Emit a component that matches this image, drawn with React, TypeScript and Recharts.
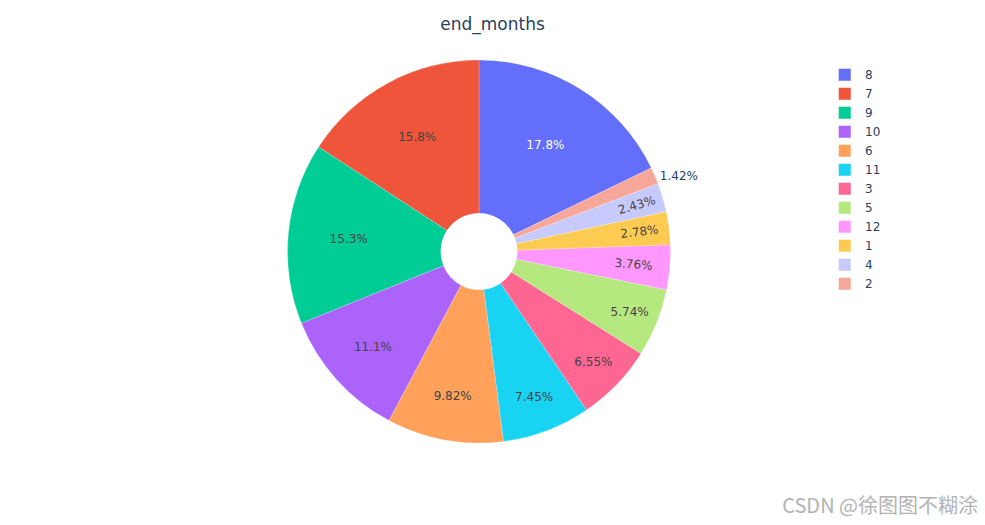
import { PieChart, Pie, Cell, Legend } from 'recharts';

// end_months share of rows (percent), in legend order
const months = ['8', '7', '9', '10', '6', '11', '3', '5', '12', '1', '4', '2'];
const shares = [17.8, 15.8, 15.3, 11.1, 9.82, 7.45, 6.55, 5.74, 3.76, 2.78, 2.43, 1.42];
const COLORS = [
  '#636efa', '#EF553B', '#00cc96', '#ab63fa', '#FFA15A', '#19d3f3',
  '#FF6692', '#B6E880', '#FF97FF', '#FECB52', '#c6cafd', '#f7a799',
];

const data = months.map((m, i) => ({ name: m, value: shares[i] }));
const total = shares.reduce((a, b) => a + b, 0);

const W = 985;
const H = 525;
// recharts adds its 5px default margin to numeric cx / cy
const CX = 474;
const CY = 246.5;
const R = 191.5;
const HOLE = 0.2;
// plotly style: first slice ends at 12 o'clock, going counterclockwise
const START = 90 - (shares[0] / total) * 360;

const FONT = '"DejaVu Sans", Verdana, sans-serif';
const INK = '#2a3f5f';

const textWidth = (s: string) => {
  let w = 0;
  for (const ch of s) w += ch === '.' ? 3.81 : ch === '%' ? 11.4 : 7.63;
  return w;
};

const hexBrightness = (hex: string) => {
  const n = parseInt(hex.slice(1), 16);
  const r = (n >> 16) & 255, g = (n >> 8) & 255, b = n & 255;
  return (r * 299 + g * 587 + b * 114) / 1000;
};

// rough port of plotly's inside-text fitting (horizontal, then radial, else outside)
const renderLabel = (props: any) => {
  const { cx, cy, midAngle, outerRadius, percent, index } = props;
  const txt = (percent * 100).toPrecision(3) + '%';
  const ring = 1 - HOLE;
  const half = percent * Math.PI;
  const w = textWidth(txt);
  const h = 15;
  const m = (midAngle * Math.PI) / 180;
  const inColor = hexBrightness(COLORS[index % COLORS.length]) >= 128 ? '#444' : '#fff';

  const sinH = Math.sin(half);
  const rIns = Math.min(sinH / (1 + sinH), ring / 2);
  const hScale = (rIns * outerRadius * 2) / Math.hypot(w, h);
  if (hScale >= 1) {
    const rc = (1 - rIns) * outerRadius;
    return (
      <text x={cx + rc * Math.cos(m)} y={cy - rc * Math.sin(m)} fill={inColor}
        fontFamily={FONT} fontSize={12} textAnchor="middle" dominantBaseline="central">
        {txt}
      </text>
    );
  }

  const a = w / h;
  const rr = outerRadius - 6;
  const q = a + 1 / (2 * Math.tan(half));
  const s = rr * Math.min(1 / (Math.sqrt(q * q + 0.5) + q), ring / (Math.sqrt(a * a + ring / 2) + a));
  if ((2 * s) / h >= 1) {
    const rc = (Math.cos(s / rr) - (a * s) / rr) * outerRadius;
    let rot = -midAngle;
    while (rot <= -90) rot += 180;
    while (rot > 90) rot -= 180;
    const x = cx + rc * Math.cos(m);
    const y = cy - rc * Math.sin(m);
    return (
      <text x={x} y={y} fill={inColor} transform={`rotate(${rot} ${x} ${y})`}
        fontFamily={FONT} fontSize={12} textAnchor="middle" dominantBaseline="central">
        {txt}
      </text>
    );
  }

  const right = Math.cos(m) >= 0;
  const ex = cx + outerRadius * Math.cos(m);
  const ey = cy - outerRadius * Math.sin(m);
  return (
    <text x={ex + (right ? 5 : -5)} y={ey} fill={INK} fontFamily={FONT} fontSize={12}
      textAnchor={right ? 'start' : 'end'} dominantBaseline="central">
      {txt}
    </text>
  );
};

const LegendBox = () => (
  <svg width={90} height={240} style={{ display: 'block' }}>
    {months.map((mo, i) => (
      <g key={mo}>
        <rect x={8.5} y={6.5 + i * 19} width={12.5} height={12.5} fill={COLORS[i]}
          stroke="#fff" strokeOpacity={0.5} strokeWidth={1} />
        <text x={35} y={13 + i * 19} fill={INK} fontFamily={FONT} fontSize={12}
          dominantBaseline="central">
          {mo}
        </text>
      </g>
    ))}
  </svg>
);

export default function App() {
  return (
    <div style={{ position: 'absolute', left: 0, top: 0, width: W, height: H, background: '#fff' }}>
      <PieChart width={W} height={H}>
        <Pie
          data={data}
          dataKey="value"
          nameKey="name"
          cx={CX}
          cy={CY}
          innerRadius={R * HOLE}
          outerRadius={R}
          startAngle={START}
          endAngle={START + 360}
          stroke="#fff"
          strokeWidth={0.2}
          label={renderLabel}
          labelLine={false}
          isAnimationActive={false}
        >
          {data.map((entry, index) => (
            <Cell key={`cell-${entry.name}`} fill={COLORS[index % COLORS.length]} />
          ))}
        </Pie>
        <Legend
          layout="vertical"
          content={() => <LegendBox />}
          wrapperStyle={{ position: 'absolute', left: 830, top: 62, width: 90, height: 240 }}
        />
      </PieChart>
      <svg width={W} height={H} style={{ position: 'absolute', left: 0, top: 0, pointerEvents: 'none' }}>
        <text x={492.5} y={30} textAnchor="middle" fill={INK} fontFamily={FONT} fontSize={17}>
          end_months
        </text>
        <text x={978} y={513} textAnchor="end" fill="#b3b3b3"
          fontFamily='"Noto Sans CJK SC", "Noto Sans", sans-serif' fontSize={20}>
          CSDN @徐图图不糊涂
        </text>
      </svg>
    </div>
  );
}
